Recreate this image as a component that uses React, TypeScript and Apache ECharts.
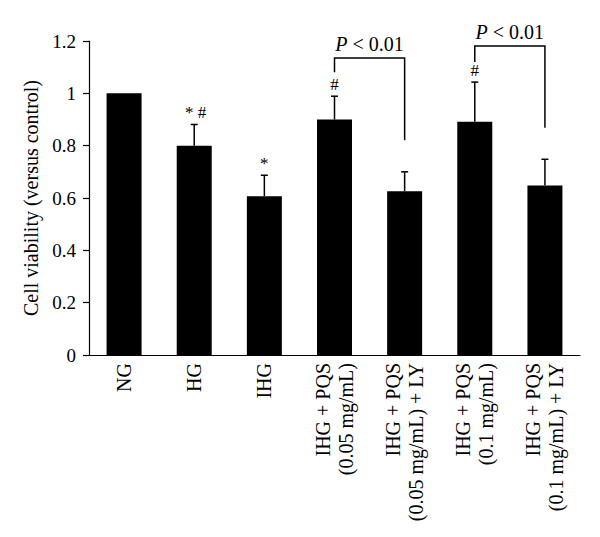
import React, { useEffect, useRef } from "react";
import * as echarts from "echarts";

const categories = [
  "NG",
  "HG",
  "IHG",
  "IHG + PQS\n(0.05 mg/mL)",
  "IHG + PQS\n(0.05 mg/mL) + LY",
  "IHG + PQS\n(0.1 mg/mL)",
  "IHG + PQS\n(0.1 mg/mL) + LY",
];
const means = [1.0, 0.8, 0.607, 0.9, 0.626, 0.891, 0.648];
const errors = [0, 0.081, 0.08, 0.089, 0.074, 0.152, 0.1];
const marks = ["", "* #", "*", "#", "", "#", ""];
// [fromIndex, toIndex, topY, leftLegEndY, rightLegEndY]
const brackets = [
  [3, 4, 1.135, 1.081, 0.821],
  [5, 6, 1.181, 1.12, 0.868],
];
const bracketLabels = ["P < 0.01", "P < 0.01"];
const yTicks = { min: 0, max: 1.2, interval: 0.2 };

const FONT = "Liberation Serif";

export default function App() {
  const ref = useRef<HTMLDivElement>(null);
  useEffect(() => {
    if (!ref.current) return;
    const chart = echarts.init(ref.current, undefined, { renderer: "svg" });
    chart.setOption({
      animation: false,
      backgroundColor: "#ffffff",
      textStyle: { fontFamily: FONT, color: "#000" },
      grid: { left: 89, right: 20, top: 41, bottom: 182, containLabel: false },
      xAxis: {
        type: "category",
        data: categories,
        axisLine: { lineStyle: { color: "#000", width: 1.2 } },
        axisTick: { show: false },
        axisLabel: {
          rotate: 90,
          margin: 8,
          fontSize: 20,
          lineHeight: 23,
          color: "#000",
          fontFamily: FONT,
          interval: 0,
        },
      },
      yAxis: {
        type: "value",
        min: yTicks.min,
        max: yTicks.max,
        interval: yTicks.interval,
        name: "Cell viability (versus control)",
        nameLocation: "middle",
        nameRotate: 90,
        nameGap: 47,
        nameTextStyle: { fontSize: 20, color: "#000", fontFamily: FONT },
        axisLine: { show: true, lineStyle: { color: "#000", width: 1.2 } },
        axisTick: { show: true, inside: false, length: 6, lineStyle: { color: "#000", width: 1.2 } },
        splitLine: { show: false },
        axisLabel: { fontSize: 19, color: "#000", margin: 13, fontFamily: FONT },
      },
      series: [
        {
          type: "bar",
          data: means,
          barWidth: 35,
          itemStyle: { color: "#000" },
        },
        {
          type: "custom",
          clip: false,
          data: means.map((m, i) => [i, m, errors[i]]),
          encode: { x: 0, y: 1 },
          renderItem: (params: any, api: any) => {
            const i = api.value(0);
            const m = api.value(1);
            const e = api.value(2);
            if (!e) return null;
            const p0 = api.coord([i, m]);
            const p1 = api.coord([i, m + e]);
            const style = { stroke: "#000", lineWidth: 1.5 };
            return {
              type: "group",
              children: [
                { type: "line", shape: { x1: p0[0], y1: p0[1], x2: p1[0], y2: p1[1] }, style },
                { type: "line", shape: { x1: p1[0] - 3.5, y1: p1[1], x2: p1[0] + 3.5, y2: p1[1] }, style },
              ],
            };
          },
        },
        {
          type: "custom",
          clip: false,
          data: means.map((m, i) => [i, m + errors[i]]),
          encode: { x: 0, y: 1 },
          renderItem: (params: any, api: any) => {
            const i = api.value(0);
            const t = marks[i];
            if (!t) return null;
            const p = api.coord([i, api.value(1)]);
            return {
              type: "text",
              x: p[0] + (t.length > 1 ? 1.5 : 0),
              y: p[1] - 3,
              style: {
                text: t,
                fontSize: 17,
                fontFamily: FONT,
                fill: "#000",
                align: "center",
                verticalAlign: "bottom",
              },
            };
          },
        },
        {
          type: "custom",
          clip: false,
          data: brackets,
          encode: { x: 0, y: 2 },
          renderItem: (params: any, api: any) => {
            const a = api.value(0);
            const b = api.value(1);
            const top = api.value(2);
            const le = api.value(3);
            const re = api.value(4);
            const pl = api.coord([a, le]);
            const plt = api.coord([a, top]);
            const prt = api.coord([b, top]);
            const pr = api.coord([b, re]);
            const label = bracketLabels[params.dataIndex];
            const txt = label.replace(/^P/, "{i|P}");
            return {
              type: "group",
              children: [
                {
                  type: "polyline",
                  shape: { points: [pl, plt, prt, pr] },
                  style: { stroke: "#000", lineWidth: 1.5, fill: null },
                },
                {
                  type: "text",
                  x: (plt[0] + prt[0]) / 2,
                  y: plt[1] - 4,
                  style: {
                    text: txt,
                    fontSize: 20,
                    fontFamily: FONT,
                    fill: "#000",
                    align: "center",
                    verticalAlign: "bottom",
                    rich: {
                      i: { fontStyle: "italic", fontSize: 20, fontFamily: FONT, fill: "#000" },
                    },
                  },
                },
              ],
            };
          },
        },
      ],
    });
    return () => chart.dispose();
  }, []);
  return (
    <div
      ref={ref}
      style={{ position: "absolute", left: 0, top: 0, width: 600, height: 537 }}
    />
  );
}
